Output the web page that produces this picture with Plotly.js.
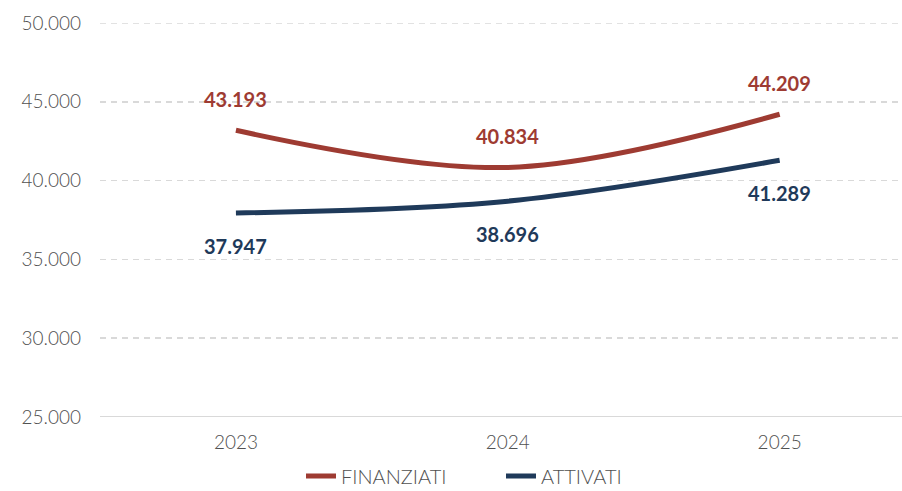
<!DOCTYPE html>
<html>
<head>
<meta charset="utf-8">
<script src="https://cdn.plot.ly/plotly-3.0.1.min.js"></script>
<style>html,body{margin:0;padding:0;background:#fff;}#chart{width:902px;height:491px;}</style>
</head>
<body>
<div id="chart"></div>
<script>
const years = ['2023', '2024', '2025'];
const finanziati = [43193, 40834, 44209];
const attivati = [37947, 38696, 41289];
const seriesNames = ['FINANZIATI', 'ATTIVATI'];
const yTicks = [25000, 30000, 35000, 40000, 45000, 50000];

const RED = '#9E3B32';
const NAVY = '#1F3A5A';
const GREY = '#505050';
const FONT = 'Lato, "Open Sans", sans-serif';

function fmt(v) {
  return v.toString().replace(/\B(?=(\d{3})+(?!\d))/g, '.');
}

const traces = [
  {x: years, y: finanziati, name: seriesNames[0], type: 'scatter', mode: 'lines',
   line: {color: RED, width: 5, shape: 'spline', smoothing: 1}, hoverinfo: 'skip'},
  {x: years, y: attivati, name: seriesNames[1], type: 'scatter', mode: 'lines',
   line: {color: NAVY, width: 5, shape: 'spline', smoothing: 1}, hoverinfo: 'skip'}
];

const annotations = [];
years.forEach((yr, i) => {
  annotations.push({xref: 'x', yref: 'y', x: i, y: finanziati[i], text: '<b>' + fmt(finanziati[i]) + '</b>', showarrow: false,
    yshift: 31, font: {family: FONT, size: 20, color: RED}});
  annotations.push({xref: 'x', yref: 'y', x: i, y: attivati[i], text: '<b>' + fmt(attivati[i]) + '</b>', showarrow: false,
    yshift: -33, font: {family: FONT, size: 20, color: NAVY}});
});

const layout = {
  width: 902, height: 491,
  margin: {l: 100, r: 0, t: 23, b: 74, autoexpand: false},
  paper_bgcolor: '#fff', plot_bgcolor: '#fff',
  separators: ',.',
  font: {family: FONT, color: GREY, size: 18},
  xaxis: {type: 'category', range: [-0.5, 2.45], showgrid: false, zeroline: false,
    showline: false, ticks: '', tickfont: {size: 19, color: GREY, weight: 300}, ticklabelstandoff: 12},
  yaxis: {range: [25000, 50000], tickvals: yTicks, ticktext: yTicks.map(fmt),
    showgrid: true, gridcolor: '#D9D9D9', griddash: '6px,5px', gridwidth: 1.5,
    zeroline: false, showline: false, ticks: '', tickfont: {size: 19, color: GREY, weight: 300},
    ticklabelstandoff: 18},
  shapes: [
    {type: 'line', xref: 'paper', yref: 'y', x0: 0, x1: 1, y0: 25000, y1: 25000,
     line: {color: '#D9D9D9', width: 2}, layer: 'below'},
    {type: 'line', xref: 'paper', yref: 'y', x0: 0, x1: 1, y0: 50000, y1: 50000,
     line: {color: '#D9D9D9', width: 1.5, dash: '6px,5px'}, layer: 'below'}
  ],
  showlegend: true,
  legend: {orientation: 'h', x: 0.5, xanchor: 'center', y: -0.1, yanchor: 'top',
    font: {size: 20, color: GREY, weight: 300}, itemwidth: 30, traceorder: 'normal',
    entrywidth: 155},
  annotations: annotations
};

Plotly.newPlot('chart', traces, layout, {displayModeBar: false, staticPlot: true});
</script>
</body>
</html>
